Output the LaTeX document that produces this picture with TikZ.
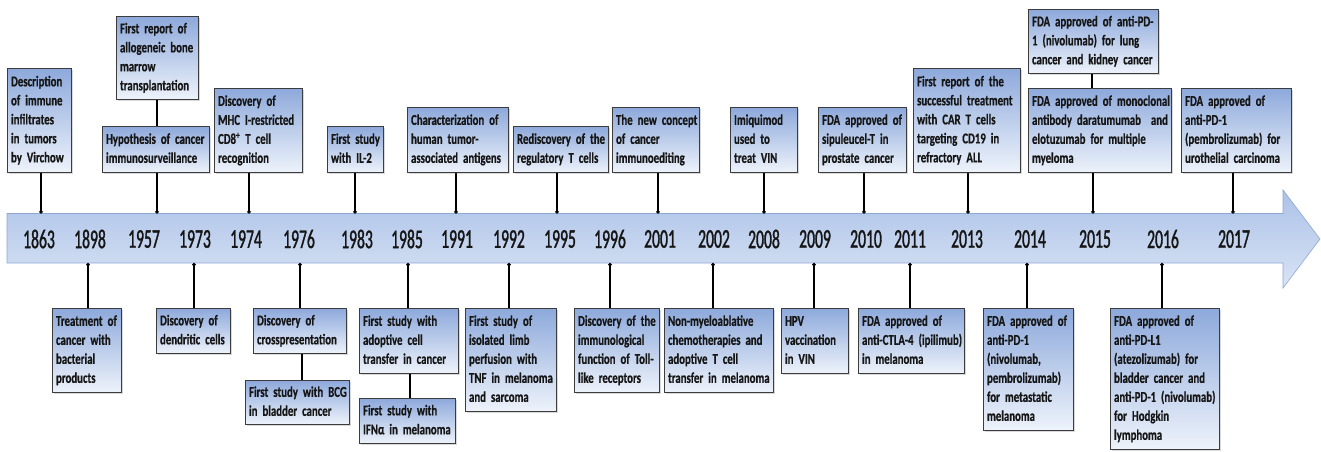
\documentclass[tikz,border=0pt]{standalone}
\usepackage{fontspec}
\usepackage{xcolor}
\usetikzlibrary{arrows.meta}
\usetikzlibrary{shadows}
\newfontfamily\boxfont[FakeStretch=0.72, FakeBold=0.6]{Carlito}
\newfontfamily\yearfont[FakeStretch=0.58, FakeBold=1.2]{Carlito}
\definecolor{boxtop}{HTML}{8DA9DB}
\definecolor{boxbot}{HTML}{EEF3FB}
\definecolor{boxline}{HTML}{3C3C3C}
\definecolor{bartopc}{HTML}{ABC2E8}
\definecolor{barbotc}{HTML}{D9E3F4}
\definecolor{barline}{HTML}{8EA7D2}
\definecolor{inktext}{HTML}{161616}
\newcommand{\evtext}[1]{\begin{tabular}{@{}l@{}}#1\end{tabular}}
\tikzset{evbox/.style 2 args = {draw=boxline, line width=1.1pt,
                                top color=boxtop, bottom color=boxbot,
                                anchor=north west, align=left,
                                inner xsep=3.5pt, inner ysep=0pt,
                                text width=#1pt, minimum height=#2pt,
                                font=\boxfont\bfseries\fontsize{15}{19}\selectfont,
                                text=inktext,
                                drop shadow={shadow xshift=1.2pt, shadow yshift=-1.2pt,
                                             opacity=0.3}}}
\tikzset{yearlab/.style = {font=\yearfont\fontsize{27}{27}\selectfont,
                           text=inktext, inner sep=0pt}}
\tikzset{tick/.style = {line width=1.5pt, {Circle[length=3.4pt]}-}}
\tikzset{link/.style = {line width=1.5pt}}

\begin{document}
\begin{tikzpicture}[x=1pt, y=-1pt]
  \useasboundingbox (0,0) rectangle (1321,451);
  % timeline arrow
  \path[top color=bartopc, bottom color=barbotc, draw=barline, line width=0.6pt]
    (7,213.5) -- (1283,213.5) -- (1283,190) -- (1320,239) -- (1283,288)
    -- (1283,263) -- (7,263) -- cycle;
  \coordinate (bartop) at (0,213.5);
  \coordinate (barbot) at (0,263);
  \foreach \yr/\xx in {1863/39, 1898/90, 1957/144, 1973/195, 1974/246,
                       1976/299, 1983/357, 1985/407, 1991/457, 1992/509,
                       1995/560, 1996/610, 2001/660, 2002/714, 2008/764,
                       2009/815, 2010/866, 2011/910, 2013/967, 2014/1030,
                       2015/1095, 2016/1163, 2017/1234}
    \node[yearlab] (y\yr) at (\xx,239) {\yr};

  % events above the line
  \node[evbox={57}{104}] (b1863) at (7,68)
    {\evtext{Description\\of immune\\infiltrates\\in tumors\\by Virchow}};
  \node[evbox={75}{83}] (b1957a) at (116,16)
    {\evtext{First report of\\allogeneic bone\\marrow\\transplantation}};
  \node[evbox={100}{46}] (b1957) at (102,126)
    {\evtext{Hypothesis of cancer\\immunosurveillance}};
  \node[evbox={81}{84}] (b1974) at (214,88)
    {\evtext{Discovery of\\MHC I-restricted\\CD8\textsuperscript{+} T cell\\recognition}};
  \node[evbox={49}{46}] (b1983) at (327,126)
    {\evtext{First study\\with IL-2}};
  \node[evbox={94}{65}] (b1991) at (407,107)
    {\evtext{Characterization of\\human tumor-\\associated antigens}};
  \node[evbox={88}{46}] (b1995) at (513,126)
    {\evtext{Rediscovery of the\\regulatory T cells}};
  \node[evbox={80}{65}] (b2001) at (612,107)
    {\evtext{The new concept\\of cancer\\immunoediting}};
  \node[evbox={60}{65}] (b2008) at (730,107)
    {\evtext{Imiquimod\\used to\\treat VIN}};
  \node[evbox={81}{65}] (b2010) at (818,107)
    {\evtext{FDA approved of\\sipuleucel-T in\\prostate cancer}};
  \node[evbox={100}{104}] (b2013) at (913,68)
    {\evtext{First report of the\\successful treatment\\with CAR T cells\\targeting CD19 in\\refractory ALL}};
  \node[evbox={123}{64}] (b2015a) at (1028,9)
    {\evtext{FDA approved of anti-PD-\\1 (nivolumab) for lung\\cancer and kidney cancer}};
  \node[evbox={136}{84}] (b2015) at (1028,88)
    {\evtext{FDA approved of monoclonal\\antibody daratumumab~ and\\elotuzumab for multiple\\myeloma}};
  \node[evbox={103}{84}] (b2017) at (1181,88)
    {\evtext{FDA approved of\\anti-PD-1\\(pembrolizumab) for\\urothelial carcinoma}};

  % events below the line
  \node[evbox={62}{84}] (b1898) at (52,308)
    {\evtext{Treatment of\\cancer with\\bacterial\\products}};
  \node[evbox={67}{45}] (b1973) at (156,308)
    {\evtext{Discovery of\\dendritic cells}};
  \node[evbox={86}{45}] (b1976) at (253,308)
    {\evtext{Discovery of\\crosspresentation}};
  \node[evbox={97}{44}] (b1976b) at (245,380)
    {\evtext{First study with BCG\\in bladder cancer}};
  \node[evbox={92}{65}] (b1985) at (359,308)
    {\evtext{First study with\\adoptive cell\\transfer in cancer}};
  \node[evbox={89}{45}] (b1985b) at (359,398)
    {\evtext{First study with\\IFNα in melanoma}};
  \node[evbox={84}{103}] (b1992) at (465,308)
    {\evtext{First study of\\isolated limb\\perfusion with\\TNF in melanoma\\and sarcoma}};
  \node[evbox={78}{84}] (b1996) at (574,308)
    {\evtext{Discovery of the\\immunological\\function of Toll-\\like receptors}};
  \node[evbox={102}{84}] (b2002) at (664,308)
    {\evtext{Non-myeloablative\\chemotherapies and\\adoptive T cell\\transfer in melanoma}};
  \node[evbox={60}{65}] (b2009) at (781,308)
    {\evtext{HPV\\vaccination\\in VIN}};
  \node[evbox={99}{65}] (b2011) at (858,308)
    {\evtext{FDA approved of\\anti-CTLA-4 (ipilimub)\\in melanoma}};
  \node[evbox={83}{122}] (b2014) at (983,308)
    {\evtext{FDA approved of\\anti-PD-1\\(nivolumab,\\pembrolizumab)\\for metastatic\\melanoma}};
  \node[evbox={102}{141}] (b2016) at (1110,308)
    {\evtext{FDA approved of\\anti-PD-L1\\(atezolizumab) for\\bladder cancer and\\anti-PD-1 (nivolumab)\\for Hodgkin\\lymphoma}};

  % connectors to the timeline
  \foreach \bx/\cx in {b1863/41, b1957/157, b1974/249, b1983/355, b1991/456,
                       b1995/557, b2001/658, b2008/764, b2010/864, b2013/968,
                       b2015/1093, b2017/1233}
    \draw[tick] (\cx,0 |- bartop) -- (\cx,0 |- \bx.south);
  \foreach \bx/\cx in {b1898/88, b1973/194, b1976/300, b1985/408, b1992/509,
                       b1996/610, b2002/713, b2009/814, b2011/910, b2014/1027,
                       b2016/1162}
    \draw[tick] (\cx,0 |- barbot) -- (\cx,0 |- \bx.north);
  \draw[link] (157,0 |- b1957a.south) -- (157,0 |- b1957.north);
  \draw[link] (1092,0 |- b2015a.south) -- (1092,0 |- b2015.north);
  \draw[link] (302,0 |- b1976.south) -- (302,0 |- b1976b.north);
  \draw[link] (410,0 |- b1985.south) -- (410,0 |- b1985b.north);
\end{tikzpicture}
\end{document}
